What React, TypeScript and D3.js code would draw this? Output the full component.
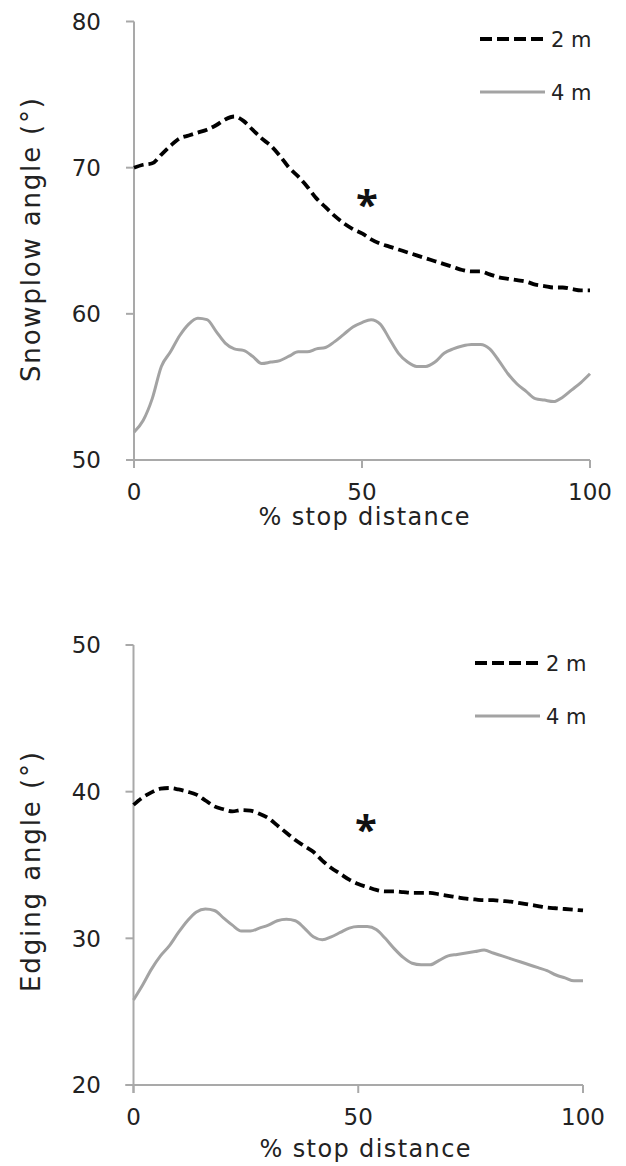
import React from "react";
import * as d3 from "d3";

const PCT = [0, 2, 4, 6, 8, 10, 12, 14, 16, 18, 20, 22, 24, 26, 28, 30, 32, 34, 36, 38, 40, 42, 44, 46, 48, 50, 52, 54, 56, 58, 60, 62, 64, 66, 68, 70, 72, 74, 76, 78, 80, 82, 84, 86, 88, 90, 92, 94, 96, 98, 100];

const SNOW_2M = [70.0, 70.2, 70.3, 70.9, 71.5, 72.0, 72.2, 72.4, 72.6, 72.9, 73.3, 73.5, 73.2, 72.6, 72.0, 71.5, 70.8, 70.0, 69.4, 68.7, 67.9, 67.3, 66.7, 66.2, 65.8, 65.5, 65.1, 64.8, 64.6, 64.4, 64.2, 64.0, 63.8, 63.6, 63.4, 63.2, 63.0, 62.9, 62.9, 62.7, 62.5, 62.4, 62.3, 62.2, 62.0, 61.9, 61.8, 61.8, 61.7, 61.6, 61.6];
const SNOW_4M = [51.9, 52.7, 54.2, 56.4, 57.4, 58.5, 59.3, 59.7, 59.6, 58.8, 58.0, 57.6, 57.5, 57.1, 56.6, 56.7, 56.8, 57.1, 57.4, 57.4, 57.6, 57.7, 58.1, 58.6, 59.1, 59.4, 59.6, 59.3, 58.3, 57.3, 56.7, 56.4, 56.4, 56.7, 57.3, 57.6, 57.8, 57.9, 57.9, 57.6, 56.8, 55.9, 55.2, 54.7, 54.2, 54.1, 54.0, 54.3, 54.8, 55.3, 55.9];

const EDGE_2M = [39.1, 39.6, 39.95, 40.2, 40.25, 40.15, 40.0, 39.8, 39.4, 39.0, 38.8, 38.65, 38.75, 38.7, 38.5, 38.2, 37.7, 37.2, 36.7, 36.3, 35.9, 35.3, 34.8, 34.4, 34.0, 33.7, 33.5, 33.3, 33.2, 33.2, 33.15, 33.1, 33.1, 33.1, 33.0, 32.9, 32.8, 32.7, 32.65, 32.6, 32.6, 32.55, 32.5, 32.4, 32.3, 32.2, 32.1, 32.05, 32.0, 31.95, 31.9];
const EDGE_4M = [25.8, 26.8, 27.9, 28.8, 29.5, 30.4, 31.2, 31.8, 32.0, 31.9, 31.4, 30.9, 30.5, 30.5, 30.7, 30.9, 31.2, 31.3, 31.2, 30.7, 30.1, 29.9, 30.1, 30.4, 30.7, 30.8, 30.8, 30.6, 30.0, 29.3, 28.7, 28.3, 28.2, 28.2, 28.5, 28.8, 28.9, 29.0, 29.1, 29.2, 29.0, 28.8, 28.6, 28.4, 28.2, 28.0, 27.8, 27.5, 27.3, 27.1, 27.1];

const X_TICKS = [0, 50, 100];
const SNOW_Y_TICKS = [50, 60, 70, 80];
const EDGE_Y_TICKS = [20, 30, 40, 50];
const SERIES_LABELS = ["2 m", "4 m"];

const FONT = "'DejaVu Sans', 'Noto Sans', sans-serif";
const TEXT = "#222";
const AXIS = "#a9a9a9";
const GRAY = "#a3a3a3";

type PanelProps = {
  x0: number; x1: number; yTop: number; yBot: number;
  yDomain: [number, number]; yTicks: number[];
  s2: number[]; s4: number[];
  yTitle: string; titleX: number; titleMid: number; titleLen: number;
  xTitleX: number; xTitleY: number;
  legX: number; legY: number;
  star: [number, number];
};

function Panel(p: PanelProps) {
  const x = d3.scaleLinear().domain([0, 100]).range([p.x0, p.x1]);
  const y = d3.scaleLinear().domain(p.yDomain).range([p.yBot, p.yTop]);
  const line = d3
    .line<number>()
    .x((_, i) => x(PCT[i]))
    .y((d) => y(d))
    .curve(d3.curveMonotoneX);
  return (
    <g>
      <line x1={p.x0} x2={p.x0} y1={p.yTop} y2={p.yBot + 8} stroke={AXIS} strokeWidth={2} />
      <line x1={p.x0 - 8} x2={p.x1} y1={p.yBot} y2={p.yBot} stroke={AXIS} strokeWidth={2} />
      {p.yTicks.map((t) => (
        <g key={"y" + t}>
          <line x1={p.x0 - 8} x2={p.x0} y1={y(t)} y2={y(t)} stroke={AXIS} strokeWidth={2} />
          <text x={101} y={y(t)} dy="0.36em" textAnchor="end" fontSize={23} fill={TEXT} fontFamily={FONT}>
            {t}
          </text>
        </g>
      ))}
      {X_TICKS.map((t) => (
        <g key={"x" + t}>
          <line x1={x(t)} x2={x(t)} y1={p.yBot} y2={p.yBot + 8} stroke={AXIS} strokeWidth={2} />
          <text x={x(t)} y={p.yBot + 40} textAnchor="middle" fontSize={23} fill={TEXT} fontFamily={FONT}>
            {t}
          </text>
        </g>
      ))}
      <text
        x={p.xTitleX}
        y={p.xTitleY}
        textAnchor="middle"
        fontSize={24}
        fill={TEXT}
        fontFamily={FONT}
        textLength={211}
        lengthAdjust="spacing"
      >
        % stop distance
      </text>
      <text
        transform={`translate(${p.titleX},${p.titleMid}) rotate(-90)`}
        textAnchor="middle"
        fontSize={26}
        fill={TEXT}
        fontFamily={FONT}
        textLength={p.titleLen}
        lengthAdjust="spacing"
      >
        {p.yTitle}
      </text>
      <path d={line(p.s4) || ""} fill="none" stroke={GRAY} strokeWidth={3} strokeLinejoin="round" />
      <path d={line(p.s2) || ""} fill="none" stroke="#000" strokeWidth={3.8} strokeDasharray="10,5" />
      <line x1={p.legX} x2={p.legX + 67} y1={p.legY} y2={p.legY} stroke="#000" strokeWidth={3.8} strokeDasharray="12,5" />
      <text x={p.legX + 71} y={p.legY + 8} fontSize={21} fill={TEXT} fontFamily={FONT}>
        {SERIES_LABELS[0]}
      </text>
      <line x1={p.legX} x2={p.legX + 65} y1={p.legY + 53} y2={p.legY + 53} stroke={GRAY} strokeWidth={3} />
      <text x={p.legX + 71} y={p.legY + 61} fontSize={21} fill={TEXT} fontFamily={FONT}>
        {SERIES_LABELS[1]}
      </text>
      <text x={p.star[0]} y={p.star[1]} textAnchor="middle" fontSize={40} fontWeight="bold" fill="#111" fontFamily="'Open Sans', sans-serif">
        *
      </text>
    </g>
  );
}

export default function App() {
  return (
    <svg width={626} height={1166} style={{ position: "absolute", left: 0, top: 0, background: "#fff" }}>
      <rect width={626} height={1166} fill="#fff" />
      <Panel
        x0={134} x1={590} yTop={21.5} yBot={460}
        yDomain={[50, 80]} yTicks={SNOW_Y_TICKS}
        s2={SNOW_2M} s4={SNOW_4M}
        yTitle="Snowplow angle (°)" titleX={40} titleMid={240} titleLen={284}
        xTitleX={364} xTitleY={525}
        legX={480} legY={39}
        star={[367, 219]}
      />
      <Panel
        x0={133.5} x1={583} yTop={645} yBot={1085}
        yDomain={[20, 50]} yTicks={EDGE_Y_TICKS}
        s2={EDGE_2M} s4={EDGE_4M}
        yTitle="Edging angle (°)" titleX={40} titleMid={872} titleLen={240}
        xTitleX={365} xTitleY={1157}
        legX={475} legY={663}
        star={[366, 844]}
      />
    </svg>
  );
}
